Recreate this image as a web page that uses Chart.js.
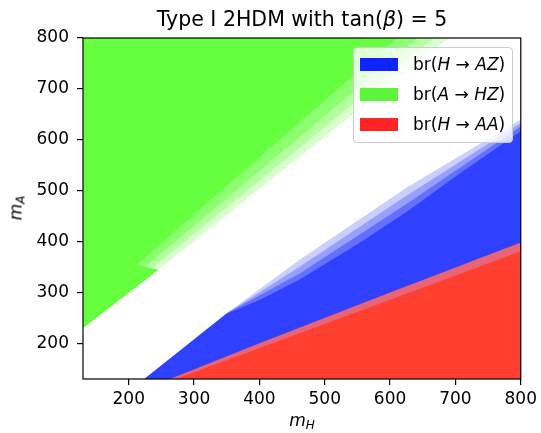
<!DOCTYPE html>
<html>
<head>
<meta charset="utf-8">
<script src="https://cdn.jsdelivr.net/npm/chart.js@4.4.0/dist/chart.umd.min.js"></script>
<style>
  body { margin: 0; background: #fff; }
  #wrap { position: relative; width: 541px; height: 433px; font-family: 'DejaVu Sans', sans-serif; color: #000; }
  #chart { position: absolute; left: 0; top: 0; }
  .txt { position: absolute; white-space: nowrap; }
  .it { font-style: italic; }
  #title { left: 302px; top: 9px; font-size: 20.5px; line-height: 20px; transform: translateX(-50%); }
  #xlab { left: 302px; top: 412px; font-size: 17px; line-height: 17px; transform: translateX(-50%); }
  #ylab { left: 17px; top: 208px; font-size: 17px; line-height: 17px; transform: translate(-50%, -50%) rotate(-90deg); }
  .sub { font-size: 12px; position: relative; top: 3px; }
  #legend { position: absolute; left: 353px; top: 47px; width: 160px; height: 96px; box-sizing: border-box;
            border: 1px solid #cccccc; border-radius: 4px; background: rgba(255,255,255,0.8); }
  .sw { position: absolute; left: 6px; width: 38px; height: 13px; }
  .lt { position: absolute; left: 59px; font-size: 17px; line-height: 17px; white-space: nowrap; }
</style>
</head>
<body>
<div id="wrap">
  <canvas id="chart" width="541" height="433"></canvas>
  <div id="title" class="txt">Type I 2HDM with tan(<span class="it">β</span>) = 5</div>
  <div id="xlab" class="txt"><span class="it">m</span><span class="sub it">H</span></div>
  <div id="ylab" class="txt"><span class="it">m</span><span class="sub it">A</span></div>
  <div id="legend"></div>
</div>
<script>
// axes (m_H on x, m_A on y)
const axisMin = 130;
const axisMax = 800;
const tickValues = [200, 300, 400, 500, 600, 700, 800];

// region outlines, as [m_H, m_A] vertices
// br(A -> HZ): solid core plus the fading contour bands along the diagonal
const greenBand0 = [[130, 230], [245, 344], [460, 565], [690, 800], [130, 800]];
const greenBand1 = [[130, 230], [245, 344], [235, 347], [450, 572], [666, 800], [130, 800]];
const greenBand2 = [[130, 230], [245, 344], [225, 350], [435, 577], [642, 800], [130, 800]];
const greenCore  = [[130, 230], [245, 344], [212, 354], [410, 577], [610, 800], [130, 800]];

// br(H -> AZ)
const blueBand0 = [[224, 130], [350, 259], [461, 364], [625, 506], [800, 640], [800, 130]];
const blueBand1 = [[224, 130], [350, 259], [461, 350], [625, 490], [800, 633], [800, 130]];
const blueBand2 = [[224, 130], [350, 259], [461, 337], [625, 474], [800, 626], [800, 130]];
const blueCore  = [[224, 130], [350, 258], [400, 285], [461, 325], [550, 395], [625, 458], [700, 528], [800, 617], [800, 130]];

// br(H -> AA)
const redEdge = [[263, 130], [400, 200], [600, 300], [800, 398], [800, 130]];
const redCore = [[272, 130], [500, 238], [800, 381], [800, 130]];

const legendLabels = [
  'br(<span class="it">H</span> → <span class="it">AZ</span>)',
  'br(<span class="it">A</span> → <span class="it">HZ</span>)',
  'br(<span class="it">H</span> → <span class="it">AA</span>)'
];
const legendColors = ['#0f22ff', '#5cf53a', '#ff2424'];

// drawing order: higher number goes underneath
const regions = [
  { pts: greenBand0, color: '#d9ffcf', order: 10 },
  { pts: greenBand1, color: '#b3ffa0', order: 9 },
  { pts: greenBand2, color: '#8cff70', order: 8 },
  { pts: greenCore,  color: '#66ff40', order: 7 },
  { pts: blueBand0,  color: '#cbcfff', order: 6 },
  { pts: blueBand1,  color: '#98a0ff', order: 5 },
  { pts: blueBand2,  color: '#6470ff', order: 4 },
  { pts: blueCore,   color: '#3040ff', order: 3 },
  { pts: redEdge,    color: '#e86476', order: 2 },
  { pts: redCore,    color: '#ff4030', order: 1 }
];

const datasets = regions.map(r => ({
  data: r.pts.map(p => ({ x: p[0], y: p[1] })),
  backgroundColor: r.color,
  borderWidth: 0,
  pointRadius: 0,
  fill: 'shape',
  order: r.order
}));

// matplotlib style box round the axes
const framePlugin = {
  id: 'frame',
  afterDatasetsDraw(chart) {
    const { ctx, chartArea: a } = chart;
    ctx.save();
    ctx.strokeStyle = '#000';
    ctx.lineWidth = 1.2;
    ctx.strokeRect(a.left, a.top, a.right - a.left, a.bottom - a.top);
    ctx.restore();
  }
};

const tickFont = { family: 'DejaVu Sans', size: 17 };
const gridOpts = { drawOnChartArea: false, drawTicks: true, tickLength: 6, color: '#000', lineWidth: 1.2 };

new Chart(document.getElementById('chart'), {
  type: 'line',
  data: { datasets },
  options: {
    responsive: false,
    animation: false,
    events: [],
    layout: { padding: { left: 0, right: 19, top: 38, bottom: 0 } },
    plugins: { legend: { display: false }, title: { display: false }, tooltip: { enabled: false } },
    scales: {
      x: {
        type: 'linear', min: axisMin, max: axisMax,
        afterBuildTicks: axis => { axis.ticks = tickValues.map(v => ({ value: v })); },
        afterFit: axis => { axis.height = 54; },
        grid: gridOpts,
        border: { display: false },
        ticks: { font: tickFont, color: '#000', padding: 4, maxRotation: 0, autoSkip: false }
      },
      y: {
        type: 'linear', min: axisMin, max: axisMax,
        afterBuildTicks: axis => { axis.ticks = tickValues.map(v => ({ value: v })); },
        afterFit: axis => { axis.width = 83; },
        grid: gridOpts,
        border: { display: false },
        ticks: { font: tickFont, color: '#000', padding: 8, autoSkip: false }
      }
    }
  },
  plugins: [framePlugin]
});

// legend inside the axes, top right
const legend = document.getElementById('legend');
legendLabels.forEach((label, i) => {
  const sw = document.createElement('div');
  sw.className = 'sw';
  sw.style.top = (10 + i * 30) + 'px';
  sw.style.background = legendColors[i];
  legend.appendChild(sw);
  const t = document.createElement('div');
  t.className = 'lt';
  t.style.top = (7.5 + i * 30) + 'px';
  t.innerHTML = label;
  legend.appendChild(t);
});
</script>
</body>
</html>
